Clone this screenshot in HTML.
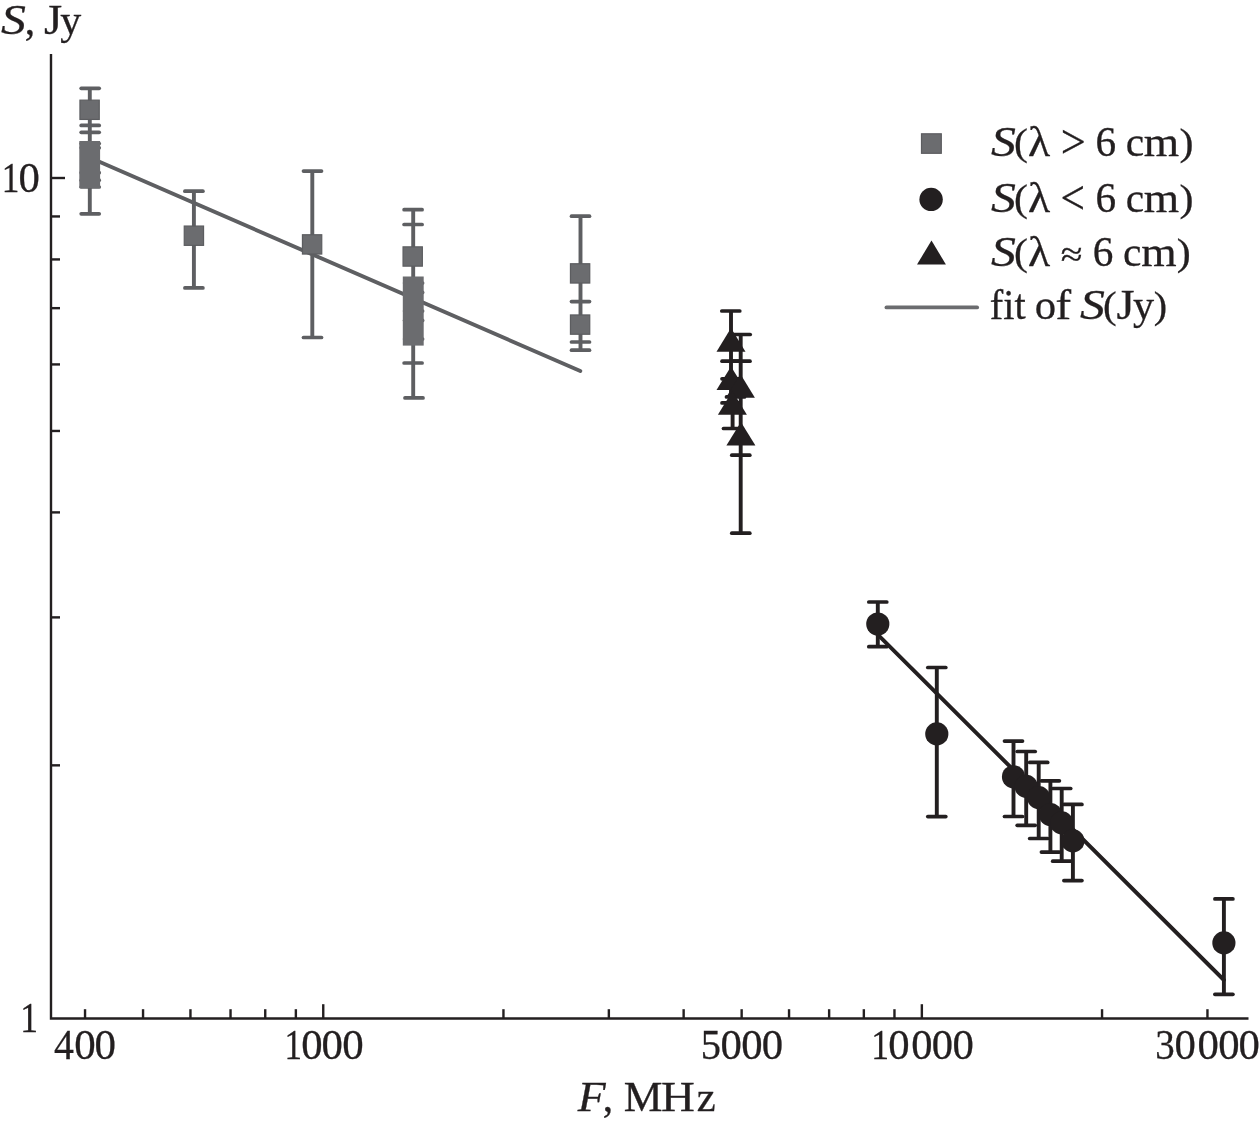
<!DOCTYPE html>
<html lang="en"><head><meta charset="utf-8"><title>Spectrum</title>
<style>html,body{margin:0;padding:0;background:#fff}svg{display:block}</style></head>
<body><svg width="1260" height="1124" viewBox="0 0 1260 1124">
<rect width="1260" height="1124" fill="#fff"/>
<g stroke="#231f20" stroke-width="2.4" fill="none">
<path d="M51,54 V1018.45 H1248.5"/>
<line x1="51" y1="765.34" x2="60" y2="765.34"/>
<line x1="51" y1="617.38" x2="60" y2="617.38"/>
<line x1="51" y1="512.39" x2="60" y2="512.39"/>
<line x1="51" y1="430.96" x2="60" y2="430.96"/>
<line x1="51" y1="364.42" x2="60" y2="364.42"/>
<line x1="51" y1="308.16" x2="60" y2="308.16"/>
<line x1="51" y1="259.43" x2="60" y2="259.43"/>
<line x1="51" y1="216.45" x2="60" y2="216.45"/>
<line x1="51" y1="178" x2="65" y2="178"/>
<line x1="85.04" y1="1018.45" x2="85.04" y2="1009.2"/>
<line x1="143.05" y1="1018.45" x2="143.05" y2="1009.2"/>
<line x1="190.45" y1="1018.45" x2="190.45" y2="1009.2"/>
<line x1="230.53" y1="1018.45" x2="230.53" y2="1009.2"/>
<line x1="265.24" y1="1018.45" x2="265.24" y2="1009.2"/>
<line x1="295.86" y1="1018.45" x2="295.86" y2="1009.2"/>
<line x1="503.45" y1="1018.45" x2="503.45" y2="1009.2"/>
<line x1="608.85" y1="1018.45" x2="608.85" y2="1009.2"/>
<line x1="683.64" y1="1018.45" x2="683.64" y2="1009.2"/>
<line x1="741.65" y1="1018.45" x2="741.65" y2="1009.2"/>
<line x1="789.05" y1="1018.45" x2="789.05" y2="1009.2"/>
<line x1="829.13" y1="1018.45" x2="829.13" y2="1009.2"/>
<line x1="863.84" y1="1018.45" x2="863.84" y2="1009.2"/>
<line x1="894.46" y1="1018.45" x2="894.46" y2="1009.2"/>
<line x1="1102.05" y1="1018.45" x2="1102.05" y2="1009.2"/>
<line x1="1207.45" y1="1018.45" x2="1207.45" y2="1009.2"/>
<line x1="323.25" y1="1018.45" x2="323.25" y2="1004.2"/>
<line x1="921.85" y1="1018.45" x2="921.85" y2="1004.2"/>
</g>
<line x1="89.6" y1="157.5" x2="580.3" y2="371" stroke="#5e5f62" stroke-width="3.9" stroke-linecap="round"/>
<line x1="89.8" y1="88.3" x2="89.8" y2="213.8" stroke="#5e5f62" stroke-width="3.9"/>
<line x1="81.20" y1="88.3" x2="99.20" y2="88.3" stroke="#5e5f62" stroke-width="3.7" stroke-linecap="round"/>
<line x1="81.20" y1="125.4" x2="99.20" y2="125.4" stroke="#5e5f62" stroke-width="3.7" stroke-linecap="round"/>
<line x1="81.20" y1="132.3" x2="99.20" y2="132.3" stroke="#5e5f62" stroke-width="3.7" stroke-linecap="round"/>
<line x1="81.20" y1="213.8" x2="99.20" y2="213.8" stroke="#5e5f62" stroke-width="3.7" stroke-linecap="round"/>
<line x1="81.20" y1="143.5" x2="99.20" y2="143.5" stroke="#5e5f62" stroke-width="3.7" stroke-linecap="round"/>
<line x1="81.20" y1="147.8" x2="99.20" y2="147.8" stroke="#5e5f62" stroke-width="3.7" stroke-linecap="round"/>
<line x1="81.20" y1="172.7" x2="99.20" y2="172.7" stroke="#5e5f62" stroke-width="3.7" stroke-linecap="round"/>
<line x1="81.20" y1="180.2" x2="99.20" y2="180.2" stroke="#5e5f62" stroke-width="3.7" stroke-linecap="round"/>
<line x1="81.20" y1="187" x2="99.20" y2="187" stroke="#5e5f62" stroke-width="3.7" stroke-linecap="round"/>
<rect x="79.95" y="100.15" width="19.3" height="19.3" fill="#6b6c6f" stroke="#5c5d60" stroke-width="1.2"/>
<rect x="79.3" y="141" width="20.8" height="47" fill="#6b6c6f"/>
<line x1="193.9" y1="191.2" x2="193.9" y2="287.9" stroke="#5e5f62" stroke-width="3.9"/>
<line x1="184.90" y1="191.2" x2="202.90" y2="191.2" stroke="#5e5f62" stroke-width="3.7" stroke-linecap="round"/>
<line x1="184.90" y1="287.9" x2="202.90" y2="287.9" stroke="#5e5f62" stroke-width="3.7" stroke-linecap="round"/>
<rect x="184.25" y="226.05" width="19.3" height="19.3" fill="#6b6c6f" stroke="#5c5d60" stroke-width="1.2"/>
<line x1="312.3" y1="171.1" x2="312.3" y2="337.5" stroke="#5e5f62" stroke-width="3.9"/>
<line x1="303.50" y1="171.1" x2="321.50" y2="171.1" stroke="#5e5f62" stroke-width="3.7" stroke-linecap="round"/>
<line x1="303.50" y1="337.5" x2="321.50" y2="337.5" stroke="#5e5f62" stroke-width="3.7" stroke-linecap="round"/>
<rect x="302.45" y="234.75" width="19.3" height="19.3" fill="#6b6c6f" stroke="#5c5d60" stroke-width="1.2"/>
<line x1="413.2" y1="209.7" x2="413.2" y2="397.9" stroke="#5e5f62" stroke-width="3.9"/>
<line x1="404.10" y1="209.7" x2="422.10" y2="209.7" stroke="#5e5f62" stroke-width="3.7" stroke-linecap="round"/>
<line x1="404.10" y1="224.5" x2="422.10" y2="224.5" stroke="#5e5f62" stroke-width="3.7" stroke-linecap="round"/>
<line x1="404.10" y1="363" x2="422.10" y2="363" stroke="#5e5f62" stroke-width="3.7" stroke-linecap="round"/>
<line x1="405.00" y1="397.9" x2="423.00" y2="397.9" stroke="#5e5f62" stroke-width="3.7" stroke-linecap="round"/>
<line x1="404.60" y1="283" x2="422.60" y2="283" stroke="#5e5f62" stroke-width="3.7" stroke-linecap="round"/>
<line x1="404.60" y1="292.4" x2="422.60" y2="292.4" stroke="#5e5f62" stroke-width="3.7" stroke-linecap="round"/>
<line x1="404.60" y1="311" x2="422.60" y2="311" stroke="#5e5f62" stroke-width="3.7" stroke-linecap="round"/>
<line x1="404.60" y1="320.4" x2="422.60" y2="320.4" stroke="#5e5f62" stroke-width="3.7" stroke-linecap="round"/>
<line x1="404.60" y1="339" x2="422.60" y2="339" stroke="#5e5f62" stroke-width="3.7" stroke-linecap="round"/>
<rect x="403.05" y="246.85" width="19.3" height="19.3" fill="#6b6c6f" stroke="#5c5d60" stroke-width="1.2"/>
<rect x="402.8" y="276.5" width="20.9" height="69.1" fill="#6b6c6f"/>
<line x1="580.5" y1="216.2" x2="580.5" y2="350.2" stroke="#5e5f62" stroke-width="3.9"/>
<line x1="571.50" y1="216.2" x2="589.50" y2="216.2" stroke="#5e5f62" stroke-width="3.7" stroke-linecap="round"/>
<line x1="571.50" y1="301.6" x2="589.50" y2="301.6" stroke="#5e5f62" stroke-width="3.7" stroke-linecap="round"/>
<line x1="571.50" y1="342" x2="589.50" y2="342" stroke="#5e5f62" stroke-width="3.7" stroke-linecap="round"/>
<line x1="571.50" y1="350.2" x2="589.50" y2="350.2" stroke="#5e5f62" stroke-width="3.7" stroke-linecap="round"/>
<rect x="570.45" y="263.75" width="19.3" height="19.3" fill="#6b6c6f" stroke="#5c5d60" stroke-width="1.2"/>
<rect x="570.45" y="314.95" width="19.3" height="19.3" fill="#6b6c6f" stroke="#5c5d60" stroke-width="1.2"/>
<line x1="877.8" y1="634.6" x2="1223.9" y2="980" stroke="#231f20" stroke-width="3.9" stroke-linecap="round"/>
<line x1="731" y1="311" x2="731" y2="405" stroke="#231f20" stroke-width="3.9"/>
<line x1="732.6" y1="400" x2="732.6" y2="428.5" stroke="#231f20" stroke-width="3.9"/>
<line x1="740.7" y1="334.5" x2="740.7" y2="533.2" stroke="#231f20" stroke-width="3.9"/>
<line x1="721.80" y1="311" x2="739.80" y2="311" stroke="#231f20" stroke-width="3.7" stroke-linecap="round"/>
<line x1="732.20" y1="334.5" x2="750.20" y2="334.5" stroke="#231f20" stroke-width="3.7" stroke-linecap="round"/>
<line x1="722.00" y1="361.2" x2="740.00" y2="361.2" stroke="#231f20" stroke-width="3.7" stroke-linecap="round"/>
<line x1="732.00" y1="361.2" x2="750.00" y2="361.2" stroke="#231f20" stroke-width="3.7" stroke-linecap="round"/>
<line x1="722.00" y1="378.8" x2="740.00" y2="378.8" stroke="#231f20" stroke-width="3.7" stroke-linecap="round"/>
<line x1="726.50" y1="396.9" x2="744.50" y2="396.9" stroke="#231f20" stroke-width="3.7" stroke-linecap="round"/>
<line x1="722.00" y1="402.9" x2="740.00" y2="402.9" stroke="#231f20" stroke-width="3.7" stroke-linecap="round"/>
<line x1="723.50" y1="428.5" x2="741.50" y2="428.5" stroke="#231f20" stroke-width="3.7" stroke-linecap="round"/>
<line x1="731.80" y1="455.2" x2="749.80" y2="455.2" stroke="#231f20" stroke-width="3.7" stroke-linecap="round"/>
<line x1="731.80" y1="533.2" x2="749.80" y2="533.2" stroke="#231f20" stroke-width="3.7" stroke-linecap="round"/>
<polygon points="716.50,351.7 745.50,351.7 731,328.09999999999997" fill="#231f20"/>
<polygon points="716.50,390 745.50,390 731,366.4" fill="#231f20"/>
<polygon points="725.90,397.7 754.90,397.7 740.4,374.09999999999997" fill="#231f20"/>
<polygon points="717.90,414.7 746.90,414.7 732.4,391.09999999999997" fill="#231f20"/>
<polygon points="726.40,445.6 755.40,445.6 740.9,422.0" fill="#231f20"/>
<line x1="877.8" y1="602" x2="877.8" y2="646.7" stroke="#231f20" stroke-width="3.9"/>
<line x1="868.80" y1="602" x2="886.80" y2="602" stroke="#231f20" stroke-width="3.7" stroke-linecap="round"/>
<line x1="868.80" y1="646.7" x2="886.80" y2="646.7" stroke="#231f20" stroke-width="3.7" stroke-linecap="round"/>
<line x1="936.8" y1="667.5" x2="936.8" y2="816.6" stroke="#231f20" stroke-width="3.9"/>
<line x1="927.80" y1="667.5" x2="945.80" y2="667.5" stroke="#231f20" stroke-width="3.7" stroke-linecap="round"/>
<line x1="927.80" y1="816.6" x2="945.80" y2="816.6" stroke="#231f20" stroke-width="3.7" stroke-linecap="round"/>
<line x1="1013.5" y1="741.1" x2="1013.5" y2="816.5" stroke="#231f20" stroke-width="3.9"/>
<line x1="1004.50" y1="741.1" x2="1022.50" y2="741.1" stroke="#231f20" stroke-width="3.7" stroke-linecap="round"/>
<line x1="1004.50" y1="816.5" x2="1022.50" y2="816.5" stroke="#231f20" stroke-width="3.7" stroke-linecap="round"/>
<line x1="1026.2" y1="751.5" x2="1026.2" y2="825.3" stroke="#231f20" stroke-width="3.9"/>
<line x1="1017.20" y1="751.5" x2="1035.20" y2="751.5" stroke="#231f20" stroke-width="3.7" stroke-linecap="round"/>
<line x1="1017.20" y1="825.3" x2="1035.20" y2="825.3" stroke="#231f20" stroke-width="3.7" stroke-linecap="round"/>
<line x1="1038.7" y1="762.4" x2="1038.7" y2="838.5" stroke="#231f20" stroke-width="3.9"/>
<line x1="1029.70" y1="762.4" x2="1047.70" y2="762.4" stroke="#231f20" stroke-width="3.7" stroke-linecap="round"/>
<line x1="1029.70" y1="838.5" x2="1047.70" y2="838.5" stroke="#231f20" stroke-width="3.7" stroke-linecap="round"/>
<line x1="1050.4" y1="780.8" x2="1050.4" y2="852.1" stroke="#231f20" stroke-width="3.9"/>
<line x1="1041.40" y1="780.8" x2="1059.40" y2="780.8" stroke="#231f20" stroke-width="3.7" stroke-linecap="round"/>
<line x1="1041.40" y1="852.1" x2="1059.40" y2="852.1" stroke="#231f20" stroke-width="3.7" stroke-linecap="round"/>
<line x1="1061.7" y1="788.5" x2="1061.7" y2="861.2" stroke="#231f20" stroke-width="3.9"/>
<line x1="1052.70" y1="788.5" x2="1070.70" y2="788.5" stroke="#231f20" stroke-width="3.7" stroke-linecap="round"/>
<line x1="1052.70" y1="861.2" x2="1070.70" y2="861.2" stroke="#231f20" stroke-width="3.7" stroke-linecap="round"/>
<line x1="1072.9" y1="804.4" x2="1072.9" y2="880.6" stroke="#231f20" stroke-width="3.9"/>
<line x1="1063.90" y1="804.4" x2="1081.90" y2="804.4" stroke="#231f20" stroke-width="3.7" stroke-linecap="round"/>
<line x1="1063.90" y1="880.6" x2="1081.90" y2="880.6" stroke="#231f20" stroke-width="3.7" stroke-linecap="round"/>
<line x1="1223.9" y1="898.9" x2="1223.9" y2="994.3" stroke="#231f20" stroke-width="3.9"/>
<line x1="1214.90" y1="898.9" x2="1232.90" y2="898.9" stroke="#231f20" stroke-width="3.7" stroke-linecap="round"/>
<line x1="1214.90" y1="994.3" x2="1232.90" y2="994.3" stroke="#231f20" stroke-width="3.7" stroke-linecap="round"/>
<circle cx="877.8" cy="624" r="11.6" fill="#231f20"/>
<circle cx="936.8" cy="733.9" r="11.6" fill="#231f20"/>
<circle cx="1013.5" cy="776.8" r="11.6" fill="#231f20"/>
<circle cx="1026.2" cy="786.4" r="11.6" fill="#231f20"/>
<circle cx="1038.7" cy="797.6" r="11.6" fill="#231f20"/>
<circle cx="1050.4" cy="814.5" r="11.6" fill="#231f20"/>
<circle cx="1061.7" cy="822.9" r="11.6" fill="#231f20"/>
<circle cx="1072.9" cy="840.9" r="11.6" fill="#231f20"/>
<circle cx="1223.9" cy="942.9" r="11.6" fill="#231f20"/>
<rect x="921.5" y="133.8" width="19.8" height="19.5" fill="#6b6c6f" stroke="#5c5d60" stroke-width="1.2"/>
<circle cx="931.1" cy="199.4" r="11.7" fill="#231f20"/>
<polygon points="917,264.5 945.9,264.5 931.5,240.5" fill="#231f20"/>
<line x1="886.5" y1="307.4" x2="977.1" y2="307.4" stroke="#6b6c6f" stroke-width="3.9" stroke-linecap="round"/>
<g font-family="'Liberation Serif', 'Times New Roman', serif" font-size="41.5" fill="#231f20" stroke="#231f20" stroke-width="0.3" style="font-kerning:none;font-variant-ligatures:none">
<text><tspan x="1.03" textLength="24.90" lengthAdjust="spacingAndGlyphs" font-style="italic" y="33.90">S</tspan><tspan x="24.72" y="33.90">,</tspan> <tspan x="44.12" textLength="18.16" lengthAdjust="spacingAndGlyphs" y="33.90">J</tspan><tspan x="60.19" textLength="20.98" lengthAdjust="spacingAndGlyphs" y="33.90">y</tspan></text>
<text><tspan x="577.65" textLength="27.88" lengthAdjust="spacingAndGlyphs" font-style="italic" y="1110.70">F</tspan><tspan x="602.82" y="1110.70">,</tspan> <tspan x="623.85" textLength="38.73" lengthAdjust="spacingAndGlyphs" y="1110.70">M</tspan><tspan x="661.13" textLength="33.87" lengthAdjust="spacingAndGlyphs" y="1110.70">H</tspan><tspan x="696.75" textLength="18.93" lengthAdjust="spacingAndGlyphs" y="1110.70">z</tspan></text>
<text><tspan x="1.70" textLength="17.61" lengthAdjust="spacingAndGlyphs" font-size="42" y="192.00">1</tspan><tspan x="18.57" textLength="21.35" lengthAdjust="spacingAndGlyphs" font-size="42" y="192.00">0</tspan></text>
<text><tspan x="20.18" textLength="17.75" lengthAdjust="spacingAndGlyphs" font-size="42" y="1032.00">1</tspan></text>
<text><tspan x="54.02" textLength="19.90" lengthAdjust="spacingAndGlyphs" font-size="42" y="1059.00">4</tspan><tspan x="74.16" textLength="21.47" lengthAdjust="spacingAndGlyphs" font-size="42" y="1059.00">0</tspan><tspan x="94.46" textLength="21.47" lengthAdjust="spacingAndGlyphs" font-size="42" y="1059.00">0</tspan></text>
<text><tspan x="284.53" textLength="17.47" lengthAdjust="spacingAndGlyphs" font-size="42" y="1059.00">1</tspan><tspan x="301.17" textLength="21.35" lengthAdjust="spacingAndGlyphs" font-size="42" y="1059.00">0</tspan><tspan x="321.57" textLength="21.35" lengthAdjust="spacingAndGlyphs" font-size="42" y="1059.00">0</tspan><tspan x="342.36" textLength="21.47" lengthAdjust="spacingAndGlyphs" font-size="42" y="1059.00">0</tspan></text>
<text><tspan x="700.75" textLength="20.23" lengthAdjust="spacingAndGlyphs" font-size="42" y="1059.00">5</tspan><tspan x="720.47" textLength="21.35" lengthAdjust="spacingAndGlyphs" font-size="42" y="1059.00">0</tspan><tspan x="741.27" textLength="21.35" lengthAdjust="spacingAndGlyphs" font-size="42" y="1059.00">0</tspan><tspan x="761.67" textLength="21.35" lengthAdjust="spacingAndGlyphs" font-size="42" y="1059.00">0</tspan></text>
<text><tspan x="871.28" textLength="17.75" lengthAdjust="spacingAndGlyphs" font-size="42" y="1059.00">1</tspan><tspan x="888.37" textLength="21.35" lengthAdjust="spacingAndGlyphs" font-size="42" y="1059.00">0</tspan><tspan x="911.38" textLength="21.24" lengthAdjust="spacingAndGlyphs" font-size="42" y="1059.00">0</tspan><tspan x="931.68" textLength="21.24" lengthAdjust="spacingAndGlyphs" font-size="42" y="1059.00">0</tspan><tspan x="952.47" textLength="21.35" lengthAdjust="spacingAndGlyphs" font-size="42" y="1059.00">0</tspan></text>
<text><tspan x="1155.33" textLength="19.49" lengthAdjust="spacingAndGlyphs" font-size="42" y="1059.00">3</tspan><tspan x="1174.47" textLength="21.35" lengthAdjust="spacingAndGlyphs" font-size="42" y="1059.00">0</tspan><tspan x="1197.47" textLength="21.35" lengthAdjust="spacingAndGlyphs" font-size="42" y="1059.00">0</tspan><tspan x="1218.17" textLength="21.35" lengthAdjust="spacingAndGlyphs" font-size="42" y="1059.00">0</tspan><tspan x="1238.57" textLength="21.35" lengthAdjust="spacingAndGlyphs" font-size="42" y="1059.00">0</tspan></text>
<text><tspan x="990.96" textLength="24.90" lengthAdjust="spacingAndGlyphs" font-style="italic" y="155.80">S</tspan><tspan x="1013.97" textLength="13.87" lengthAdjust="spacingAndGlyphs" font-size="38.6" y="154.80">(</tspan><tspan x="1028.10" textLength="22.15" lengthAdjust="spacingAndGlyphs" y="155.80">λ</tspan> <tspan x="1060.75" textLength="24.97" lengthAdjust="spacingAndGlyphs" font-size="49" y="158.00">&gt;</tspan> <tspan x="1095.53" textLength="20.60" lengthAdjust="spacingAndGlyphs" y="155.80">6</tspan> <tspan x="1125.63" textLength="18.35" lengthAdjust="spacingAndGlyphs" y="155.80">c</tspan><tspan x="1143.85" textLength="35.37" lengthAdjust="spacingAndGlyphs" y="155.80">m</tspan><tspan x="1179.44" textLength="14.00" lengthAdjust="spacingAndGlyphs" font-size="38.6" y="154.80">)</tspan></text>
<text><tspan x="990.96" textLength="24.90" lengthAdjust="spacingAndGlyphs" font-style="italic" y="211.70">S</tspan><tspan x="1013.97" textLength="13.87" lengthAdjust="spacingAndGlyphs" font-size="38.6" y="210.70">(</tspan><tspan x="1028.10" textLength="22.15" lengthAdjust="spacingAndGlyphs" y="211.70">λ</tspan> <tspan x="1060.44" textLength="24.48" lengthAdjust="spacingAndGlyphs" font-size="49" y="213.90">&lt;</tspan> <tspan x="1095.53" textLength="20.60" lengthAdjust="spacingAndGlyphs" y="211.70">6</tspan> <tspan x="1125.63" textLength="18.35" lengthAdjust="spacingAndGlyphs" y="211.70">c</tspan><tspan x="1143.85" textLength="35.37" lengthAdjust="spacingAndGlyphs" y="211.70">m</tspan><tspan x="1179.44" textLength="14.00" lengthAdjust="spacingAndGlyphs" font-size="38.6" y="210.70">)</tspan></text>
<text><tspan x="990.96" textLength="24.90" lengthAdjust="spacingAndGlyphs" font-style="italic" y="265.70">S</tspan><tspan x="1013.97" textLength="13.87" lengthAdjust="spacingAndGlyphs" font-size="38.6" y="264.70">(</tspan><tspan x="1028.10" textLength="22.15" lengthAdjust="spacingAndGlyphs" y="265.70">λ</tspan> <tspan x="1060.72" textLength="21.71" lengthAdjust="spacingAndGlyphs" font-size="35" y="266.40">≈</tspan> <tspan x="1092.83" textLength="20.60" lengthAdjust="spacingAndGlyphs" y="265.70">6</tspan> <tspan x="1122.93" textLength="18.35" lengthAdjust="spacingAndGlyphs" y="265.70">c</tspan><tspan x="1141.15" textLength="35.37" lengthAdjust="spacingAndGlyphs" y="265.70">m</tspan><tspan x="1176.74" textLength="14.00" lengthAdjust="spacingAndGlyphs" font-size="38.6" y="264.70">)</tspan></text>
<text><tspan x="989.76" textLength="35.88" lengthAdjust="spacingAndGlyphs" y="318.50">fit</tspan> <tspan x="1034.67" textLength="21.35" lengthAdjust="spacingAndGlyphs" y="318.50">o</tspan><tspan x="1055.62" textLength="15.62" lengthAdjust="spacingAndGlyphs" y="318.50">f</tspan> <tspan x="1080.06" textLength="24.90" lengthAdjust="spacingAndGlyphs" font-style="italic" y="318.50">S</tspan><tspan x="1103.10" textLength="13.61" lengthAdjust="spacingAndGlyphs" font-size="38.6" y="317.50">(</tspan><tspan x="1116.43" textLength="18.05" lengthAdjust="spacingAndGlyphs" y="318.50">J</tspan><tspan x="1132.99" textLength="21.08" lengthAdjust="spacingAndGlyphs" y="318.50">y</tspan><tspan x="1153.81" textLength="13.35" lengthAdjust="spacingAndGlyphs" font-size="38.6" y="317.50">)</tspan></text>
</g>
</svg></body></html>
